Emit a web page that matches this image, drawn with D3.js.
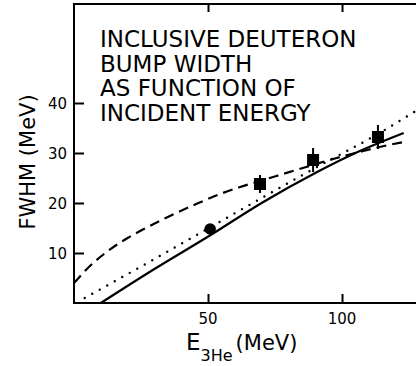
<!DOCTYPE html>
<html><head><meta charset="utf-8">
<script src="https://cdn.jsdelivr.net/npm/d3@7"></script>
<style>body{margin:0;background:#fff}svg{display:block}text{font-family:"DejaVu Sans",sans-serif;fill:#000}</style>
</head><body>
<svg id="c" width="416" height="366"></svg>
<script>
// data
const xTicks = [50, 100];
const yTicks = [10, 20, 30, 40];
const titleLines = ["INCLUSIVE DEUTERON", "BUMP WIDTH", "AS FUNCTION OF", "INCIDENT ENERGY"];
const solidE = [10, 30, 51, 70, 90, 105, 123];
const solidF = [0, 6.8, 13.6, 20, 26, 30, 34];
const dottedE = [4, 30, 51, 70, 90, 114, 127.5];
const dottedF = [1, 8.8, 15.2, 21, 27, 34, 38.4];
const dashedE = [0, 5, 10, 15, 20, 25, 35, 46, 55, 62, 70, 86, 98, 108, 114, 124];
const dashedF = [4.0, 6.9, 9.3, 11.3, 13.0, 14.5, 17.2, 19.9, 21.9, 23.2, 24.5, 27.1, 29.0, 30.4, 31.2, 32.3];
const circleE = [50.8], circleF = [14.8];
const squareE = [69.4, 89.2, 113.4];
const squareF = [23.8, 28.6, 33.2];
const squareErr = [1.8, 2.4, 2.4];

const svg = d3.select("#c");
const x = d3.scaleLinear().domain([0, 127.6]).range([74, 416]);
const y = d3.scaleLinear().domain([0, 60]).range([303, 3]);

// frame
const g = svg.append("g").attr("stroke", "#000").attr("stroke-width", 2).attr("fill", "none");
g.append("line").attr("x1", x(0)).attr("x2", x(0)).attr("y1", y(60)).attr("y2", y(0) + 1);
g.append("line").attr("x1", x(0)).attr("x2", 416).attr("y1", y(0)).attr("y2", y(0));
g.append("line").attr("x1", x(0) - 1).attr("x2", 416).attr("y1", y(60) + 1).attr("y2", y(60) + 1);

// y axis ticks
const yAxis = d3.axisRight(y).tickValues(yTicks).tickSize(10).tickFormat("");
const ya = svg.append("g").attr("transform", `translate(${x(0)},0)`).call(yAxis);
ya.select(".domain").remove();
ya.selectAll("line").attr("stroke-width", 2);
svg.selectAll(".ylab").data(yTicks).join("text")
  .attr("x", 67).attr("y", d => y(d) + 5.5).attr("text-anchor", "end")
  .attr("font-size", 15).text(d => d);

// x axis ticks (bottom and top)
const xb = svg.append("g").attr("transform", `translate(0,${y(0)})`)
  .call(d3.axisTop(x).tickValues(xTicks).tickSize(9).tickFormat(""));
xb.select(".domain").remove();
xb.selectAll("line").attr("stroke-width", 2);
const xt = svg.append("g").attr("transform", `translate(0,${y(60) + 1})`)
  .call(d3.axisBottom(x).tickValues(xTicks).tickSize(8).tickFormat(""));
xt.select(".domain").remove();
xt.selectAll("line").attr("stroke-width", 2);
svg.selectAll(".xlab").data(xTicks).join("text")
  .attr("x", d => x(d)).attr("y", 324).attr("text-anchor", "middle")
  .attr("font-size", 15).text(d => d);

// curves
const line = d3.line().x(d => x(d[0])).y(d => y(d[1])).curve(d3.curveMonotoneX);
const zip = (a, b) => a.map((v, i) => [v, b[i]]);
svg.append("path").attr("d", line(zip(solidE, solidF)))
  .attr("fill", "none").attr("stroke", "#000").attr("stroke-width", 2.2);
svg.append("path").attr("d", line(zip(dottedE, dottedF)))
  .attr("fill", "none").attr("stroke", "#000").attr("stroke-width", 2.4)
  .attr("stroke-linecap", "round").attr("stroke-dasharray", "0,8.6");
svg.append("path").attr("d", line(zip(dashedE, dashedF)))
  .attr("fill", "none").attr("stroke", "#000").attr("stroke-width", 2.2)
  .attr("stroke-dasharray", "10,6");

// markers
svg.selectAll(".dot").data(zip(circleE, circleF)).join("circle")
  .attr("cx", d => x(d[0])).attr("cy", d => y(d[1])).attr("r", 5.8).attr("fill", "#000");
const sq = zip(squareE, squareF).map((d, i) => [d[0], d[1], squareErr[i]]);
svg.selectAll(".err").data(sq).join("line")
  .attr("x1", d => x(d[0])).attr("x2", d => x(d[0]))
  .attr("y1", d => y(d[1] + d[2])).attr("y2", d => y(d[1] - d[2]))
  .attr("stroke", "#000").attr("stroke-width", 2);
svg.selectAll(".sq").data(sq).join("rect")
  .attr("x", d => x(d[0]) - 6).attr("y", d => y(d[1]) - 6)
  .attr("width", 12).attr("height", 12).attr("fill", "#000");

// title text
svg.selectAll(".title").data(titleLines).join("text")
  .attr("x", 100).attr("y", (d, i) => 47 + i * 24.7)
  .attr("font-size", 23).text(d => d);

// y label
svg.append("text").attr("transform", "translate(35,162) rotate(-90)")
  .attr("text-anchor", "middle").attr("font-size", 21).text("FWHM (MeV)");

// x label
const xl = svg.append("text").attr("x", 186).attr("y", 350).attr("font-size", 23);
xl.append("tspan").text("E");
xl.append("tspan").attr("dy", 11).attr("font-size", 16).text("3He");
xl.append("tspan").attr("dy", -11).attr("dx", 3).attr("font-size", 21).text("(MeV)");
</script>
</body></html>
